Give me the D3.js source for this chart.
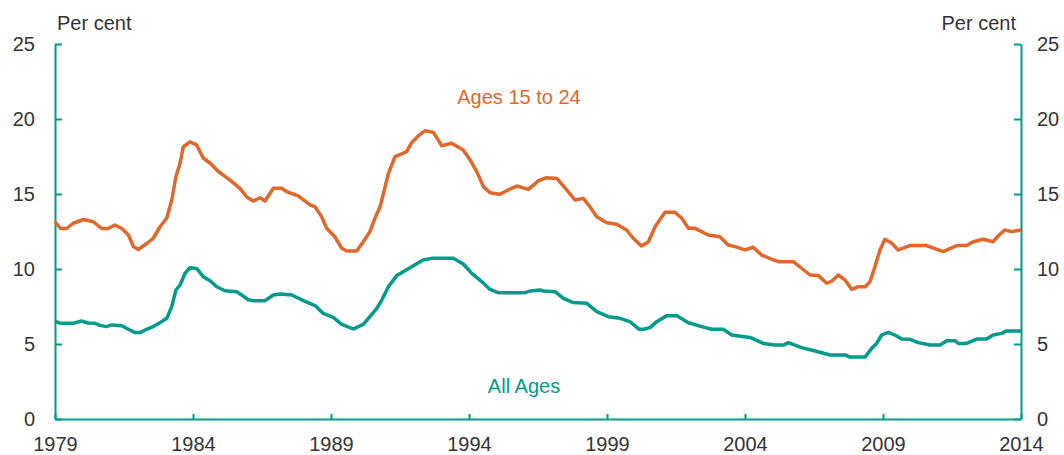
<!DOCTYPE html>
<html>
<head>
<meta charset="utf-8">
<script src="https://cdn.jsdelivr.net/npm/d3@7"></script>
<style>
    body { margin: 0; background: #fff; overflow: hidden; }
    svg { display: block; }
    text { font-family: "Liberation Sans", Arial, Helvetica, sans-serif; }
    .axis-label { font-size: 20px; fill: #333; }
</style>
</head>
<body>
<div id="chart"></div>
<script>
// ========== DATA ==========
const yearTicks = [1979, 1984, 1989, 1994, 1999, 2004, 2009, 2014];
const rateTicks = [0, 5, 10, 15, 20, 25];

// Unemployment rate, ages 15 to 24: [year, per cent]
const youthSeries = [
    [1979.0, 13.15], [1979.2, 12.7], [1979.42, 12.7], [1979.66, 13.05], [1980.03, 13.3],
    [1980.39, 13.15], [1980.69, 12.7], [1980.93, 12.7], [1981.17, 12.93], [1981.42, 12.7],
    [1981.66, 12.27], [1981.84, 11.5], [1982.02, 11.3], [1982.32, 11.7], [1982.56, 12.05],
    [1982.8, 12.8], [1983.05, 13.4], [1983.23, 14.6], [1983.38, 16.15], [1983.53, 17.05],
    [1983.65, 18.15], [1983.89, 18.47], [1984.13, 18.27], [1984.37, 17.4], [1984.62, 17.05],
    [1984.92, 16.5], [1985.34, 15.93], [1985.7, 15.38], [1985.95, 14.8], [1986.18, 14.53],
    [1986.43, 14.75], [1986.61, 14.53], [1986.91, 15.38], [1987.21, 15.38], [1987.4, 15.15],
    [1987.81, 14.87], [1988.24, 14.27], [1988.42, 14.15], [1988.66, 13.49], [1988.84, 12.71],
    [1989.14, 12.15], [1989.39, 11.38], [1989.57, 11.2], [1989.93, 11.2], [1990.17, 11.82],
    [1990.41, 12.49], [1990.59, 13.38], [1990.78, 14.15], [1990.96, 15.49], [1991.08, 16.38],
    [1991.32, 17.49], [1991.56, 17.67], [1991.74, 17.82], [1991.92, 18.42], [1992.16, 18.87],
    [1992.41, 19.22], [1992.71, 19.11], [1993.01, 18.22], [1993.37, 18.38], [1993.79, 17.93],
    [1994.04, 17.27], [1994.28, 16.49], [1994.52, 15.49], [1994.76, 15.09], [1995.12, 14.98],
    [1995.42, 15.27], [1995.73, 15.53], [1996.15, 15.31], [1996.51, 15.87], [1996.81, 16.09],
    [1997.18, 16.04], [1997.54, 15.27], [1997.84, 14.6], [1998.14, 14.71], [1998.38, 14.15],
    [1998.63, 13.49], [1998.99, 13.09], [1999.35, 12.98], [1999.71, 12.6], [1999.95, 12.05],
    [2000.25, 11.53], [2000.5, 11.82], [2000.74, 12.82], [2001.1, 13.78], [2001.46, 13.78],
    [2001.71, 13.38], [2001.95, 12.71], [2002.19, 12.71], [2002.67, 12.27], [2003.09, 12.15],
    [2003.39, 11.6], [2003.64, 11.49], [2004.0, 11.27], [2004.3, 11.45], [2004.6, 10.93],
    [2004.97, 10.65], [2005.21, 10.49], [2005.75, 10.49], [2006.05, 10.05], [2006.36, 9.6],
    [2006.66, 9.56], [2006.96, 9.05], [2007.15, 9.2], [2007.38, 9.6], [2007.62, 9.27],
    [2007.87, 8.64], [2008.1, 8.82], [2008.35, 8.82], [2008.53, 9.16], [2008.71, 10.16],
    [2008.89, 11.27], [2009.07, 11.98], [2009.32, 11.71], [2009.55, 11.27], [2009.98, 11.56],
    [2010.58, 11.56], [2011.18, 11.16], [2011.67, 11.56], [2012.03, 11.56], [2012.27, 11.82],
    [2012.63, 11.98], [2012.99, 11.82], [2013.17, 12.2], [2013.41, 12.6], [2013.66, 12.49],
    [2014.0, 12.6]
];

// Unemployment rate, all ages: [year, per cent]
const allSeries = [
    [1979.0, 6.53], [1979.2, 6.38], [1979.66, 6.38], [1979.97, 6.53], [1980.2, 6.4],
    [1980.45, 6.38], [1980.63, 6.24], [1980.87, 6.16], [1981.05, 6.27], [1981.42, 6.22],
    [1981.66, 5.98], [1981.9, 5.76], [1982.08, 5.76], [1982.32, 5.98], [1982.56, 6.16],
    [1982.8, 6.42], [1983.05, 6.71], [1983.23, 7.49], [1983.38, 8.6], [1983.53, 8.93],
    [1983.71, 9.71], [1983.89, 10.09], [1984.13, 10.04], [1984.37, 9.49], [1984.62, 9.22],
    [1984.86, 8.82], [1985.16, 8.55], [1985.58, 8.49], [1985.76, 8.27], [1986.0, 7.95],
    [1986.18, 7.89], [1986.61, 7.89], [1986.91, 8.27], [1987.15, 8.33], [1987.58, 8.27],
    [1988.0, 7.89], [1988.42, 7.56], [1988.72, 7.04], [1989.08, 6.78], [1989.39, 6.31],
    [1989.81, 6.0], [1990.17, 6.31], [1990.41, 6.82], [1990.66, 7.38], [1990.84, 7.93],
    [1991.08, 8.82], [1991.38, 9.56], [1991.68, 9.89], [1991.98, 10.22], [1992.34, 10.6],
    [1992.65, 10.71], [1993.43, 10.71], [1993.79, 10.33], [1994.1, 9.71], [1994.46, 9.16],
    [1994.76, 8.64], [1995.06, 8.42], [1996.03, 8.42], [1996.21, 8.53], [1996.57, 8.6],
    [1996.7, 8.53], [1997.12, 8.49], [1997.42, 8.04], [1997.78, 7.76], [1998.27, 7.71],
    [1998.63, 7.16], [1999.05, 6.82], [1999.47, 6.71], [1999.83, 6.49], [2000.17, 5.98],
    [2000.32, 5.98], [2000.56, 6.09], [2000.8, 6.49], [2001.16, 6.89], [2001.53, 6.89],
    [2001.95, 6.42], [2002.43, 6.16], [2002.79, 5.98], [2003.21, 5.98], [2003.52, 5.6],
    [2004.18, 5.44], [2004.66, 5.04], [2005.09, 4.93], [2005.39, 4.93], [2005.57, 5.09],
    [2006.05, 4.76], [2006.54, 4.53], [2007.08, 4.27], [2007.62, 4.27], [2007.8, 4.13],
    [2008.35, 4.13], [2008.59, 4.71], [2008.77, 5.04], [2008.95, 5.6], [2009.19, 5.78],
    [2009.43, 5.6], [2009.68, 5.33], [2009.98, 5.31], [2010.28, 5.09], [2010.7, 4.93],
    [2011.07, 4.93], [2011.31, 5.22], [2011.61, 5.22], [2011.73, 5.04], [2012.03, 5.04],
    [2012.39, 5.33], [2012.75, 5.33], [2012.99, 5.6], [2013.3, 5.71], [2013.48, 5.87],
    [2014.0, 5.87]
];

// ========== LAYOUT ==========
const width = 1064;
const height = 455;
const margin = { top: 44, right: 43, bottom: 36, left: 55 };
const innerWidth = width - margin.left - margin.right;
const innerHeight = height - margin.top - margin.bottom;

const orange = "#e2672a";
const teal = "#009b8c";
const textColor = "#333";

const svg = d3.select("#chart")
    .append("svg")
    .attr("width", width)
    .attr("height", height);

const innerChart = svg.append("g")
    .attr("transform", `translate(${margin.left}, ${margin.top})`);

// ========== SCALES ==========
const xScale = d3.scaleLinear()
    .domain([1979, 2014])
    .range([0, innerWidth]);

const yScale = d3.scaleLinear()
    .domain([0, 25])
    .range([innerHeight, 0]);

// ========== AXES ==========
const styleAxis = (g) => {
    g.attr("font-family", null).attr("font-size", null);
    g.select(".domain").attr("stroke", teal).attr("stroke-width", 2);
    g.selectAll(".tick line").attr("stroke", teal).attr("stroke-width", 2);
    g.selectAll(".tick text").style("font-size", "20px").attr("fill", textColor);
};

innerChart.append("g")
    .call(d3.axisLeft(yScale).tickValues(rateTicks).tickSize(-7).tickSizeOuter(0).tickPadding(20))
    .call(styleAxis);

innerChart.append("g")
    .attr("transform", `translate(${innerWidth}, 0)`)
    .call(d3.axisRight(yScale).tickValues(rateTicks).tickSize(-7).tickSizeOuter(0).tickPadding(16))
    .call(styleAxis);

innerChart.append("g")
    .attr("transform", `translate(0, ${innerHeight})`)
    .call(d3.axisBottom(xScale).tickValues(yearTicks).tickFormat(d3.format("d"))
        .tickSize(-5).tickSizeOuter(0).tickPadding(18))
    .call(styleAxis);

// unit labels
svg.append("text")
    .text("Per cent")
    .attr("class", "axis-label")
    .attr("x", 57)
    .attr("y", 30);

svg.append("text")
    .text("Per cent")
    .attr("class", "axis-label")
    .attr("text-anchor", "end")
    .attr("x", 1016)
    .attr("y", 30);

// ========== LINES ==========
const lineGenerator = d3.line()
    .x(d => xScale(d[0]))
    .y(d => yScale(d[1]));

innerChart.append("path")
    .attr("d", lineGenerator(allSeries))
    .attr("fill", "none")
    .attr("stroke", teal)
    .attr("stroke-width", 3.5)
    .attr("stroke-linejoin", "round");

innerChart.append("path")
    .attr("d", lineGenerator(youthSeries))
    .attr("fill", "none")
    .attr("stroke", orange)
    .attr("stroke-width", 3.5)
    .attr("stroke-linejoin", "round");

// ========== SERIES LABELS ==========
svg.append("text")
    .text("Ages 15 to 24")
    .attr("text-anchor", "middle")
    .attr("x", 519)
    .attr("y", 104)
    .style("font-size", "20px")
    .attr("fill", orange);

svg.append("text")
    .text("All Ages")
    .attr("text-anchor", "middle")
    .attr("x", 524)
    .attr("y", 393)
    .style("font-size", "20px")
    .attr("fill", teal);
</script>
</body>
</html>
